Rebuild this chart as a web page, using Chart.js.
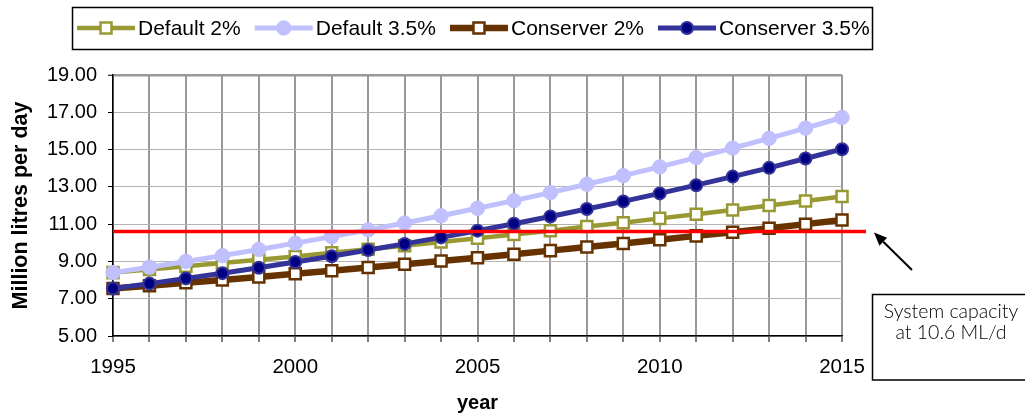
<!DOCTYPE html>
<html>
<head>
<meta charset="utf-8">
<title>Projected water demand</title>
<script src="https://cdn.jsdelivr.net/npm/chart.js@4.4.1/dist/chart.umd.min.js"></script>
<style>
  html, body { margin: 0; padding: 0; background: #fff; }
  #wrap { width: 1025px; height: 417px; position: relative; }
</style>
</head>
<body>
<div id="wrap"><canvas id="demand" width="1025" height="417"></canvas></div>
<script>
// Demand projections, million litres per day
const years = [1995, 1996, 1997, 1998, 1999, 2000, 2001, 2002, 2003, 2004, 2005,
               2006, 2007, 2008, 2009, 2010, 2011, 2012, 2013, 2014, 2015];
const default2 = [8.40, 8.57, 8.74, 8.91, 9.09, 9.27, 9.46, 9.65, 9.84, 10.04, 10.24,
                  10.44, 10.65, 10.87, 11.08, 11.31, 11.53, 11.76, 12.00, 12.24, 12.48];
const default35 = [8.40, 8.69, 9.00, 9.31, 9.64, 9.98, 10.33, 10.69, 11.06, 11.45, 11.85,
                   12.26, 12.69, 13.14, 13.60, 14.07, 14.57, 15.08, 15.60, 16.15, 16.72];
const conserver2 = [7.55, 7.70, 7.86, 8.01, 8.17, 8.34, 8.50, 8.67, 8.85, 9.02, 9.20,
                    9.39, 9.58, 9.77, 9.96, 10.16, 10.37, 10.57, 10.78, 11.00, 11.22];
const conserver35 = [7.55, 7.81, 8.09, 8.37, 8.66, 8.97, 9.28, 9.61, 9.94, 10.29, 10.65,
                     11.02, 11.41, 11.81, 12.22, 12.65, 13.09, 13.55, 14.02, 14.52, 15.02];
const seriesNames = ['Default 2%', 'Default 3.5%', 'Conserver 2%', 'Conserver 3.5%'];
const xLabelYears = [1995, 2000, 2005, 2010, 2015];
const yTickValues = [5, 7, 9, 11, 13, 15, 17, 19];
const systemCapacity = 10.6;
const capacityNote = ['System capacity', 'at 10.6 ML/d'];

const FONT = "'Liberation Sans', Arial, Helvetica, sans-serif";
Chart.defaults.font.family = FONT;
Chart.defaults.color = '#000';

const toPoints = vals => years.map((yr, i) => ({ x: yr, y: vals[i] }));

// Legend with line + marker samples inside a framed box
const framedLegend = {
  id: 'framedLegend',
  afterDraw(chart) {
    const ctx = chart.ctx;
    const box = { x: 72, y: 7, w: 800, h: 42 };
    const cy = box.y + box.h / 2;
    ctx.save();
    ctx.lineWidth = 1.5;
    ctx.strokeStyle = '#000';
    ctx.strokeRect(box.x + 0.5, box.y + 0.5, box.w, box.h);
    ctx.font = '21px ' + FONT;
    ctx.textBaseline = 'middle';
    ctx.textAlign = 'left';
    let x = 77;
    chart.data.datasets.forEach(ds => {
      const sw = 58;
      ctx.strokeStyle = ds.borderColor;
      ctx.lineWidth = ds.borderWidth;
      ctx.beginPath();
      ctx.moveTo(x, cy);
      ctx.lineTo(x + sw, cy);
      ctx.stroke();
      const mx = x + sw / 2;
      ctx.fillStyle = ds.pointBackgroundColor;
      ctx.strokeStyle = ds.pointBorderColor;
      ctx.lineWidth = ds.pointBorderWidth;
      ctx.beginPath();
      if (ds.pointStyle === 'rect') {
        const s = Math.SQRT1_2 * ds.pointRadius;
        ctx.rect(mx - s, cy - s, 2 * s, 2 * s);
      } else {
        ctx.arc(mx, cy, ds.pointRadius, 0, Math.PI * 2);
      }
      ctx.fill();
      if (ds.pointBorderWidth > 0) ctx.stroke();
      ctx.fillStyle = '#000';
      const tx = x + sw + 3;
      ctx.fillText(ds.label, tx, cy + 1);
      x = tx + ctx.measureText(ds.label).width + 14;
    });
    ctx.restore();
  }
};

// Capacity line, arrow and its note
const capacityMarker = {
  id: 'capacityMarker',
  afterDatasetsDraw(chart) {
    const { ctx, scales: { x, y } } = chart;
    const ly = y.getPixelForValue(systemCapacity);
    const x0 = x.left;
    const x1 = x.right + 24;
    ctx.save();
    ctx.strokeStyle = '#ff0000';
    ctx.lineWidth = 3.5;
    ctx.beginPath();
    ctx.moveTo(x0, ly);
    ctx.lineTo(x1, ly);
    ctx.stroke();
    ctx.restore();
  },
  afterDraw(chart) {
    const { ctx, scales: { x, y } } = chart;
    const ly = y.getPixelForValue(systemCapacity);
    const tip = { x: x.right + 32, y: ly + 1 };
    const tail = { x: 912, y: 270 };
    ctx.save();
    ctx.strokeStyle = '#000';
    ctx.fillStyle = '#000';
    ctx.lineWidth = 2;
    const ang = Math.atan2(tip.y - tail.y, tip.x - tail.x);
    const head = 13, half = 5.5;
    const bx = tip.x - head * Math.cos(ang), by = tip.y - head * Math.sin(ang);
    ctx.beginPath();
    ctx.moveTo(tail.x, tail.y);
    ctx.lineTo(bx, by);
    ctx.stroke();
    ctx.beginPath();
    ctx.moveTo(tip.x, tip.y);
    ctx.lineTo(bx + half * Math.sin(ang), by - half * Math.cos(ang));
    ctx.lineTo(bx - half * Math.sin(ang), by + half * Math.cos(ang));
    ctx.closePath();
    ctx.fill();

    // note box, running off the right edge
    ctx.lineWidth = 1.5;
    ctx.strokeRect(872.5, 294.5, 200, 85.5);
    ctx.font = "300 19.5px Lato, 'Open Sans', sans-serif";
    ctx.textAlign = 'center';
    ctx.textBaseline = 'alphabetic';
    ctx.fillText(capacityNote[0], 951, 318);
    ctx.fillText(capacityNote[1], 951, 339);
    ctx.restore();
  }
};

new Chart(document.getElementById('demand'), {
  type: 'line',
  data: {
    datasets: [
      {
        label: seriesNames[0], data: toPoints(default2), order: 3,
        borderColor: '#999933', borderWidth: 4.5,
        pointStyle: 'rect', pointRadius: 7.8, pointBackgroundColor: '#ffffff',
        pointBorderColor: '#999933', pointBorderWidth: 2.5
      },
      {
        label: seriesNames[1], data: toPoints(default35), order: 1,
        borderColor: '#c0c0ff', borderWidth: 5,
        pointStyle: 'circle', pointRadius: 7.2, pointBackgroundColor: '#c0c0ff',
        pointBorderColor: '#c0c0ff', pointBorderWidth: 1
      },
      {
        label: seriesNames[2], data: toPoints(conserver2), order: 2,
        borderColor: '#663300', borderWidth: 6.5,
        pointStyle: 'rect', pointRadius: 7.8, pointBackgroundColor: '#ffffff',
        pointBorderColor: '#663300', pointBorderWidth: 2.5
      },
      {
        label: seriesNames[3], data: toPoints(conserver35), order: 0,
        borderColor: '#333399', borderWidth: 5,
        pointStyle: 'circle', pointRadius: 6, pointBackgroundColor: '#000080',
        pointBorderColor: '#333399', pointBorderWidth: 2
      }
    ].map(ds => Object.assign(ds, { tension: 0, clip: false, fill: false, pointHoverRadius: ds.pointRadius }))
  },
  options: {
    responsive: false,
    animation: false,
    events: [],
    layout: { padding: { top: 75, right: 183, bottom: 0, left: 0 } },
    plugins: { legend: { display: false }, tooltip: { enabled: false } },
    scales: {
      x: {
        type: 'linear', min: years[0], max: years[years.length - 1],
        ticks: {
          stepSize: 1, autoSkip: false, maxRotation: 0, padding: 13,
          font: { size: 20.5 }, color: '#000',
          callback: v => xLabelYears.includes(v) ? String(v) : ''
        },
        grid: { color: '#999999', lineWidth: 2, tickLength: 6, tickColor: '#000', tickWidth: 1 },
        border: { color: '#000', width: 1.5 },
        title: {
          display: true, text: 'year', color: '#000',
          font: { size: 20, weight: 'bold' }, padding: { top: 0, bottom: 2 }
        },
        afterFit: s => { s.height = 81; }
      },
      y: {
        min: yTickValues[0], max: yTickValues[yTickValues.length - 1],
        afterBuildTicks: s => { s.ticks = yTickValues.map(v => ({ value: v })); },
        ticks: { padding: 11, font: { size: 20 }, color: '#000', callback: v => Number(v).toFixed(2) },
        grid: {
          color: c => (c.tick && c.tick.value === yTickValues[yTickValues.length - 1]) ? '#999999' : '#b3b3b3',
          lineWidth: c => (c.tick && c.tick.value === yTickValues[yTickValues.length - 1]) ? 2.5 : 1,
          tickLength: 5, tickColor: '#000', tickWidth: 1
        },
        border: { color: '#000', width: 1.5 },
        title: {
          display: true, text: 'Million litres per day', color: '#000',
          font: { size: 21.5, weight: 'bold' }, padding: { top: 8, bottom: 0 }
        },
        afterFit: s => { s.width = 113; }
      }
    }
  },
  plugins: [framedLegend, capacityMarker]
});
</script>
</body>
</html>
